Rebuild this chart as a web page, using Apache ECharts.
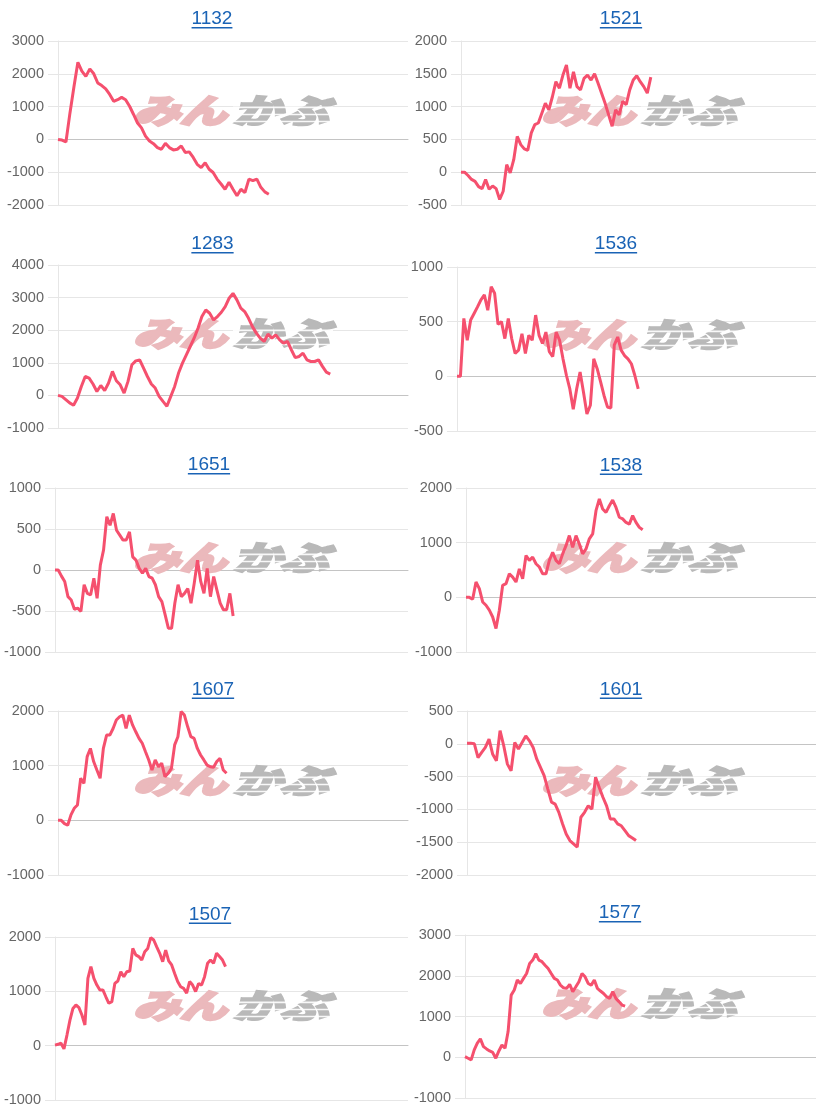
<!DOCTYPE html>
<html><head><meta charset="utf-8">
<script src="https://cdn.jsdelivr.net/npm/echarts@6/dist/echarts.min.js"></script>
<style>html,body{margin:0;padding:0;background:#fff}#c{width:816px;height:1115px}</style>
</head><body><div id="c"></div>
<script>
// ---- data ----
const codes = ['1132','1521','1283','1536','1651','1538','1607','1601','1507','1577'];
const s1132 = [0,-20,-80,800,1600,2350,2080,1920,2150,2000,1720,1640,1540,1370,1160,1210,1280,1210,1010,760,500,350,100,-50,-130,-250,-300,-120,-250,-320,-300,-200,-400,-380,-550,-760,-860,-710,-910,-1010,-1210,-1360,-1520,-1310,-1520,-1720,-1520,-1620,-1210,-1260,-1210,-1460,-1600,-1670];
const s1521 = [0,0,-50,-110,-140,-220,-250,-110,-260,-210,-250,-415,-290,115,-10,190,545,420,355,335,600,725,750,900,1050,950,1150,1380,1280,1480,1635,1280,1530,1305,1255,1430,1480,1405,1500,1355,1205,1050,875,700,950,875,1080,1030,1255,1405,1470,1380,1305,1205,1450];
const s1283 = [0,-30,-130,-230,-300,-80,275,580,530,350,120,305,145,380,735,450,325,70,430,940,1060,1090,835,580,350,225,-30,-185,-335,-30,275,685,990,1245,1500,1755,2060,2420,2620,2520,2315,2420,2550,2725,2980,3130,2930,2675,2570,2365,2110,1910,1755,1655,1880,1755,1855,1705,1600,1655,1400,1160,1195,1295,1090,1040,1040,1090,890,715,655];
const s1536 = [0,0,530,330,515,575,635,700,745,605,820,760,475,500,345,530,345,210,240,390,210,375,330,560,375,300,405,225,180,405,330,160,10,-115,-300,-115,40,-145,-345,-265,160,70,-50,-175,-280,-290,285,360,240,190,160,115,10,-115];
const s1651 = [0,0,-75,-140,-325,-365,-480,-465,-505,-180,-285,-305,-100,-345,60,245,650,545,690,485,425,365,365,465,160,120,20,-40,20,-80,-100,-180,-325,-385,-545,-710,-710,-405,-180,-325,-285,-225,-405,-160,120,-140,-285,20,-325,-80,-245,-405,-485,-485,-285,-560];
const s1538 = [0,0,-35,280,160,-85,-145,-235,-360,-570,-235,220,250,430,370,280,520,340,765,675,735,615,555,430,430,675,825,675,615,795,945,1130,915,1130,975,795,885,1070,1160,1585,1800,1615,1555,1675,1780,1645,1465,1435,1370,1340,1495,1370,1280,1235];
const s1607 = [0,0,-60,-90,100,220,280,770,675,1165,1315,1075,920,770,1315,1560,1560,1680,1835,1895,1925,1680,1925,1745,1620,1500,1410,1255,1105,920,1105,980,1045,800,860,950,1380,1530,1990,1925,1715,1530,1500,1315,1195,1105,1010,980,970,1075,1135,920,860];
const s1601 = [10,10,0,-210,-130,-55,70,-160,-260,200,-30,-310,-410,20,-80,20,120,45,-55,-235,-360,-485,-690,-890,-920,-1045,-1220,-1375,-1475,-1525,-1575,-1120,-1045,-945,-995,-510,-665,-815,-945,-1145,-1145,-1220,-1250,-1325,-1400,-1435,-1475];
const s1507 = [10,25,45,-60,195,470,685,750,700,565,380,1240,1455,1240,1115,1025,1025,900,780,810,1145,1190,1360,1270,1360,1375,1790,1670,1640,1575,1730,1790,1990,1945,1820,1700,1545,1760,1560,1485,1330,1180,1085,1055,965,1180,1115,995,1145,1115,1270,1515,1575,1515,1700,1640,1575,1455];
const s1577 = [15,-25,-65,180,345,450,260,205,155,120,-25,155,300,220,630,1525,1650,1895,1810,1935,2055,2300,2385,2545,2385,2345,2260,2180,2055,1935,1895,1770,1705,1690,1790,1610,1730,1855,2055,1975,1810,1770,1895,1690,1625,1565,1485,1445,1610,1445,1365,1280,1255];
const seriesData = [s1132,s1521,s1283,s1536,s1651,s1538,s1607,s1601,s1507,s1577];
// number of day slots on each x axis
const daySlots = [89,102,91,106,110,106,109,96,119,115];
// y axis ticks
const yMin  = [-2000,-500,-1000,-500,-1000,-1000,-1000,-2000,-1000,-1000];
const yMax  = [3000,2000,4000,1000,1000,2000,2000,500,2000,3000];
const yStep = [1000,500,1000,500,500,1000,1000,500,1000,1000];

// ---- layout ----
const gLeft  = [58,461,58,457,55,466,58,467,55,465];
const gTop   = [41,41,265,267,488,488,711,711,937,935];
const gBot   = [205,205,428,431,652,652,875,875,1100,1098];
const gRight = [408,816,408,816,408,816,408,816,408,816];
const tX = [212,621,212.5,616,209,621,213,621,210,620];
const tY = [19,19,244,244,465,465.5,689.5,689.5,914.5,913];
const wmY = [95,95,318,319,542,542,765,765,990,988];

const LINE = '#f5506e', GRID = '#e6e6e6', ZERO = '#c4c4c4', LINK = '#1a63b5';
const labelFont = '"Liberation Sans", Arial, Helvetica, sans-serif';

const cv = document.createElement('canvas').getContext('2d');
cv.font = '19px ' + labelFont;

const chart = echarts.init(document.getElementById('c'), null, {renderer:'canvas'});
const grid = [], xAxis = [], yAxis = [], series = [], graphic = [];
for (let i = 0; i < 10; i++) {
  grid.push({left: gLeft[i], top: gTop[i], width: gRight[i]-gLeft[i], height: gBot[i]-gTop[i], containLabel: false});
  xAxis.push({type:'category', gridIndex:i, boundaryGap:false,
    data: Array.from({length: daySlots[i]}, () => ''),
    axisLabel:{show:false}, axisTick:{show:false}, splitLine:{show:false},
    axisLine:{show:true, onZero:true, lineStyle:{color:ZERO, width:1}}});
  yAxis.push({type:'value', gridIndex:i, min:yMin[i], max:yMax[i], interval:yStep[i],
    axisLine:{show:true, lineStyle:{color:GRID}},
    axisTick:{show:true, length:10, lineStyle:{color:GRID}},
    splitLine:{show:true, lineStyle:{color:GRID, width:1}},
    axisLabel:{color:'#666', fontSize:14.5, fontFamily:labelFont, margin:14, formatter: v => String(v)}});
  series.push({type:'line', xAxisIndex:i, yAxisIndex:i, data:seriesData[i], showSymbol:false,
    symbol:'none', lineStyle:{color:LINE, width:3}, itemStyle:{color:LINE}, z:5, animation:false});
  // title with underline
  const w = cv.measureText(codes[i]).width;
  graphic.push({type:'text', x:tX[i], y:tY[i], z:10,
    style:{text:codes[i], fill:LINK, font:'19px ' + labelFont, align:'center', verticalAlign:'middle'}});
  graphic.push({type:'rect', x:tX[i]-w/2, y:tY[i]+8, z:10, shape:{width:w, height:1.4}, style:{fill:LINK}});
  // watermark
  const wx = (i % 2 === 0) ? 133 : 541;
  graphic.push({type:'text', x:wx, y:wmY[i]-1, z:1, scaleX:1.42, silent:true,
    style:{text:'みん', fill:'#ebb9bc', stroke:'#ebb9bc', lineWidth:3, font:'italic bold 33px "Noto Sans CJK JP"', align:'left', verticalAlign:'top'}});
  graphic.push({type:'text', x:wx+100, y:wmY[i]-1, z:1, scaleX:1.45, silent:true,
    style:{text:'かぶ', fill:'#b9b9b9', stroke:'#b9b9b9', lineWidth:3, font:'italic bold 33px "Noto Sans CJK JP"', align:'left', verticalAlign:'top'}});
  [0.3, 0.52, 0.74].forEach(f => {
    graphic.push({type:'rect', x:wx+100, y:wmY[i]+2+f*32, z:1, silent:true,
      shape:{width:100, height:1.6}, style:{fill:'rgba(255,255,255,0.9)'}});
  });
}
chart.setOption({animation:false, grid, xAxis, yAxis, series, graphic});
</script></body></html>
